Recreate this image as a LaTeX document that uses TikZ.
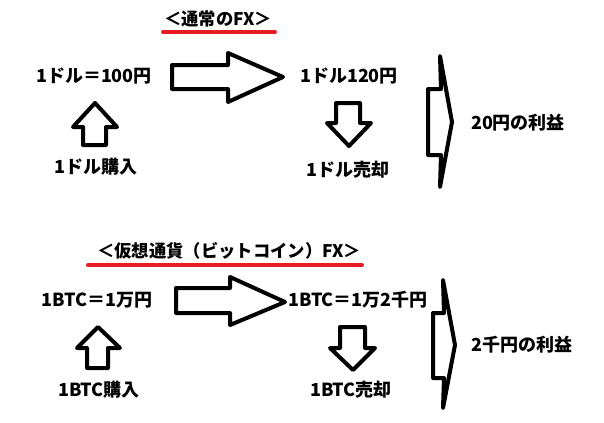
\documentclass[tikz,border=0pt]{standalone}
\usepackage{fontspec}
\newfontfamily\jp{Noto Sans CJK JP}
\definecolor{ulred}{RGB}{232,28,36}
\begin{document}
\begin{tikzpicture}[x=0.75pt,y=-0.75pt,
  lbl/.style={font=\jp\bfseries\fontsize{13.5pt}{15pt}\selectfont, inner sep=0pt, anchor=center},
  ttl/.style={font=\jp\bfseries\fontsize{13pt}{15pt}\selectfont, inner sep=0pt, anchor=center},
  shp/.style={draw=black, line width=3pt, line join=round, fill=white},
  uline/.style={draw=ulred, line width=3pt, line cap=round}]
\useasboundingbox (0,0) rectangle (604,422);

% ---------- section 1 ----------
\node[ttl] (t1) at (218,19) {＜通常のFX＞};
\draw[uline] (163,32) -- (275,32);

\node[lbl] (a1) at (94,76) {1ドル＝100円};
\node[lbl] (b1) at (349,76) {1ドル120円};
\node[lbl] (c1) at (96,167) {1ドル購入};
\node[lbl] (d1) at (348,170) {1ドル売却};
\node[lbl] (e1) at (518,123) {20円の利益};

% big right arrow
\path[shp] (172,65) -- (228,65) -- (228,53) -- (283,77) -- (228,102) -- (228,89) -- (172,89) -- cycle;
% up arrow
\path[shp] (83,145) -- (83,127) -- (73,127) -- (95,103) -- (117,127) -- (106,127) -- (106,145) -- cycle;
% down arrow
\path[shp] (336,103) -- (360,103) -- (360,123) -- (371,123) -- (349,146) -- (327,123) -- (336,123) -- cycle;
% bracket arrow
\path[shp] (428,89) -- (441,89) -- (440,56) -- (452,122) -- (440,187) -- (441,155) -- (428,155) -- cycle;

% ---------- section 2 ----------
\node[ttl] (t2) at (229,251) {＜仮想通貨（ビットコイン）FX＞};
\draw[uline] (88,265) -- (362,265);

\node[lbl] (a2) at (97,300) {1BTC＝1万円};
\node[lbl] (b2) at (358,300) {1BTC＝1万2千円};
\node[lbl] (c2) at (99,390) {1BTC購入};
\node[lbl] (d2) at (351,390) {1BTC売却};
\node[lbl] (e2) at (522,345) {2千円の利益};

\path[shp] (176,288) -- (230,288) -- (230,277) -- (285,302) -- (230,325) -- (230,313) -- (176,313) -- cycle;
\path[shp] (87,368) -- (87,348) -- (77,348) -- (98,327) -- (120,348) -- (108,348) -- (108,368) -- cycle;
\path[shp] (340,327) -- (365,327) -- (365,348) -- (375,348) -- (353,370) -- (330,348) -- (340,348) -- cycle;
\path[shp] (433,313) -- (444,313) -- (443,280) -- (455,345) -- (443,408) -- (444,378) -- (433,378) -- cycle;
\end{tikzpicture}
\end{document}
